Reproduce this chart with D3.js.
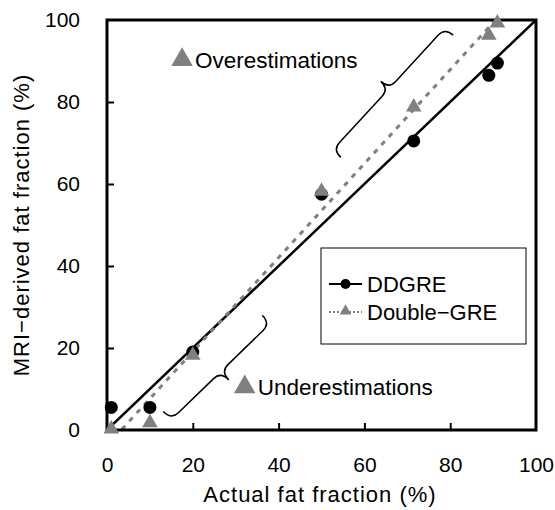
<!DOCTYPE html>
<html>
<head>
<meta charset="utf-8">
<script src="https://cdn.jsdelivr.net/npm/d3@7"></script>
<style>
  body { margin: 0; background: #fff; }
  text { font-family: "Liberation Sans", Arial, sans-serif; fill: #000; }
</style>
</head>
<body>
<svg width="555" height="510"></svg>
<script>
// measured points, actual vs MRI-derived fat fraction (%)
var actual    = [1, 10, 20, 50, 71.5, 89, 91];
var ddgre     = [5.5, 5.5, 19, 57.5, 70.5, 86.5, 89.5];
var doubleGre = [0.5, 2, 18.5, 58.5, 79, 96.5, 99.5];
var ticks = [0, 20, 40, 60, 80, 100];

var svg = d3.select("svg");

var x = d3.scaleLinear().domain([0, 100]).range([107, 536]);
var y = d3.scaleLinear().domain([0, 100]).range([430, 20]);

var grey = "#808080";

// clip for lines
svg.append("clipPath").attr("id", "plot")
  .append("rect")
  .attr("x", x(0)).attr("y", y(100))
  .attr("width", x(100) - x(0)).attr("height", y(0) - y(100));

// least squares fit for the Double-GRE trend line
function fit(xs, ys) {
  var mx = d3.mean(xs), my = d3.mean(ys);
  var sxy = d3.sum(xs, function(v, i) { return (v - mx) * (ys[i] - my); });
  var sxx = d3.sum(xs, function(v) { return (v - mx) * (v - mx); });
  var b = sxy / sxx;
  return { slope: b, icpt: my - b * mx };
}
var f = fit(actual, doubleGre);

// identity line (DDGRE)
svg.append("line")
  .attr("clip-path", "url(#plot)")
  .attr("x1", x(0)).attr("y1", y(0))
  .attr("x2", x(100)).attr("y2", y(100))
  .attr("stroke", "#000").attr("stroke-width", 2.5);

// trend line (Double-GRE)
svg.append("line")
  .attr("clip-path", "url(#plot)")
  .attr("x1", x(0)).attr("y1", y(f.icpt))
  .attr("x2", x(100)).attr("y2", y(f.icpt + f.slope * 100))
  .attr("stroke", grey).attr("stroke-width", 3)
  .attr("stroke-dasharray", "5,6");

// axes
var xAxis = d3.axisBottom(x).tickValues(ticks).tickSize(-7).tickSizeOuter(0).tickPadding(27);
var yAxis = d3.axisLeft(y).tickValues(ticks).tickSize(-7).tickSizeOuter(0).tickPadding(27);

var gx = svg.append("g").attr("transform", "translate(0," + y(0) + ")").call(xAxis);
var gy = svg.append("g").attr("transform", "translate(" + x(0) + ",0)").call(yAxis);
[gx, gy].forEach(function(g) {
  g.select(".domain").remove();
  g.selectAll(".tick line").attr("stroke", "#000").attr("stroke-width", 2);
  g.selectAll(".tick text").attr("font-size", 21).attr("font-family", "Liberation Sans");
});
gx.selectAll(".tick").filter(function(d) { return d == 0 || d == 100; }).select("line").remove();
gy.selectAll(".tick").filter(function(d) { return d == 0 || d == 100; }).select("line").remove();

// frame
svg.append("rect")
  .attr("x", x(0)).attr("y", y(100))
  .attr("width", x(100) - x(0)).attr("height", y(0) - y(100))
  .attr("fill", "none").attr("stroke", "#000").attr("stroke-width", 3);

// markers
var tri = d3.symbol().type(d3.symbolTriangle);

svg.selectAll(".dd")
  .data(actual)
  .enter().append("circle")
  .attr("class", "dd")
  .attr("cx", function(d) { return x(d); })
  .attr("cy", function(d, i) { return y(ddgre[i]); })
  .attr("r", 6.5)
  .attr("fill", "#000");

svg.selectAll(".dg")
  .data(actual)
  .enter().append("path")
  .attr("class", "dg")
  .attr("d", tri.size(105))
  .attr("transform", function(d, i) { return "translate(" + x(d) + "," + (y(doubleGre[i]) + 1) + ")"; })
  .attr("fill", grey);

// curly brace between two points, tip offset d px
function brace(x1, y1, x2, y2, d) {
  var L = Math.hypot(x2 - x1, y2 - y1);
  var ang = Math.atan2(y2 - y1, x2 - x1) * 180 / Math.PI;
  var h = d / 2, r = 10;
  var p = "M0,0 Q0," + h + " " + r + "," + h +
          " L" + (L / 2 - r) + "," + h +
          " Q" + (L / 2) + "," + h + " " + (L / 2) + "," + d +
          " Q" + (L / 2) + "," + h + " " + (L / 2 + r) + "," + h +
          " L" + (L - r) + "," + h +
          " Q" + L + "," + h + " " + L + ",0";
  svg.append("path")
    .attr("d", p)
    .attr("transform", "translate(" + x1 + "," + y1 + ") rotate(" + ang + ")")
    .attr("fill", "none").attr("stroke", "#000").attr("stroke-width", 1.5);
}
brace(x(54.5), y(66.5), x(80.7), y(96.3), -22);
brace(x(13.1), y(4.5), x(36.2), y(28), 23);

// annotations
function note(dx, dy, label) {
  svg.append("path")
    .attr("d", tri.size(200))
    .attr("transform", "translate(" + x(dx) + "," + y(dy) + ")")
    .attr("fill", grey);
  svg.append("text")
    .attr("x", x(dx) + 13).attr("y", y(dy) + 8)
    .attr("font-size", 22.5)
    .text(label);
}
note(17.5, 90.3, "Overestimations");
note(32.1, 10.5, "Underestimations");

// legend
var lg = svg.append("g").attr("transform", "translate(321,248)");
lg.append("rect").attr("width", 205).attr("height", 96)
  .attr("fill", "#fff").attr("stroke", "#000").attr("stroke-width", 1);
lg.append("line").attr("x1", 8).attr("x2", 41).attr("y1", 36).attr("y2", 36)
  .attr("stroke", "#000").attr("stroke-width", 2);
lg.append("circle").attr("cx", 24.5).attr("cy", 36).attr("r", 5).attr("fill", "#000");
lg.append("text").attr("x", 46).attr("y", 36).attr("dy", "0.36em").attr("font-size", 22).text("DDGRE");
lg.append("line").attr("x1", 8).attr("x2", 41).attr("y1", 64).attr("y2", 64)
  .attr("stroke", grey).attr("stroke-width", 2).attr("stroke-dasharray", "2,2");
lg.append("path").attr("d", tri.size(60)).attr("transform", "translate(24.5,63)").attr("fill", grey);
lg.append("text").attr("x", 46).attr("y", 64).attr("dy", "0.36em").attr("font-size", 22).text("Double\u2212GRE");

// axis titles
svg.append("text")
  .attr("x", 320).attr("y", 502)
  .attr("text-anchor", "middle").attr("font-size", 22)
  .attr("letter-spacing", 1)
  .text("Actual fat fraction (%)");
svg.append("text")
  .attr("transform", "translate(29,225) rotate(-90)")
  .attr("text-anchor", "middle").attr("font-size", 22)
  .attr("letter-spacing", 1)
  .text("MRI\u2212derived fat fraction (%)");
</script>
</body>
</html>
